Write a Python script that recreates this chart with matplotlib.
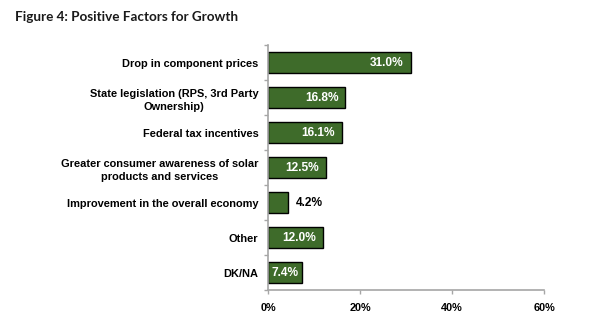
import numpy as np
import matplotlib.pyplot as plt

# Data
categories = [
    "Drop in component prices",
    "State legislation (RPS, 3rd Party\nOwnership)",
    "Federal tax incentives",
    "Greater consumer awareness of solar\nproducts and services",
    "Improvement in the overall economy",
    "Other",
    "DK/NA",
]
values = [31.0, 16.8, 16.1, 12.5, 4.2, 12.0, 7.4]
x_ticks = [0, 20, 40, 60]
x_tick_labels = ["0%", "20%", "40%", "60%"]

BAR_COLOR = "#3e6b2a"
AXIS_COLOR = "#a6a6a6"

plt.rcParams["font.family"] = ["Liberation Sans", "DejaVu Sans"]

fig = plt.figure(figsize=(6.0, 3.29), dpi=100)
ax = fig.add_axes([0.447, 0.1185, 0.46, 0.7445])

n = len(categories)
ypos = np.arange(n)
ax.barh(ypos, values, height=0.58, color=BAR_COLOR, edgecolor="black", linewidth=1.0)

ax.set_xlim(0, 60)
ax.set_ylim(n - 0.5, -0.5)

# value labels: inside (white) for long bars, outside (black) for short
for y, v in zip(ypos, values):
    label = f"{v:.1f}%"
    style = dict(va="center", fontsize=8.6, fontweight="bold")
    if v < 6:
        ax.annotate(label, (v, y), xytext=(6, 0), textcoords="offset points",
                    ha="left", color="black", **style)
    elif v < 10:
        ax.annotate(label, (v / 2, y), ha="center", color="white", **style)
    else:
        ax.annotate(label, (v, y), xytext=(-5, 0), textcoords="offset points",
                    ha="right", color="white", **style)

# y axis: category labels, ticks at boundaries
ax.set_yticks(ypos)
ax.set_yticklabels(categories, fontsize=7.9, fontweight="bold", ha="right",
                   multialignment="center", linespacing=1.45)
ax.tick_params(axis="y", which="major", length=0, pad=7)
ax.set_yticks(np.arange(-0.5, n, 1.0), minor=True)
ax.tick_params(axis="y", which="minor", length=3, color=AXIS_COLOR, width=1)

# x axis
ax.set_xticks(x_ticks)
ax.set_xticklabels(x_tick_labels, fontsize=7.8, fontweight="bold")
ax.tick_params(axis="x", length=3, color=AXIS_COLOR, width=1, pad=6)

for side in ["top", "right"]:
    ax.spines[side].set_visible(False)
for side in ["left", "bottom"]:
    ax.spines[side].set_color(AXIS_COLOR)
    ax.spines[side].set_linewidth(1.2)

fig.text(0.025, 0.947, "Figure 4: Positive Factors for Growth", fontsize=9.7,
         fontweight="bold", family=["Lato", "DejaVu Sans"], color="#1a1a1a", va="center")

plt.savefig("out.png", dpi=100)
